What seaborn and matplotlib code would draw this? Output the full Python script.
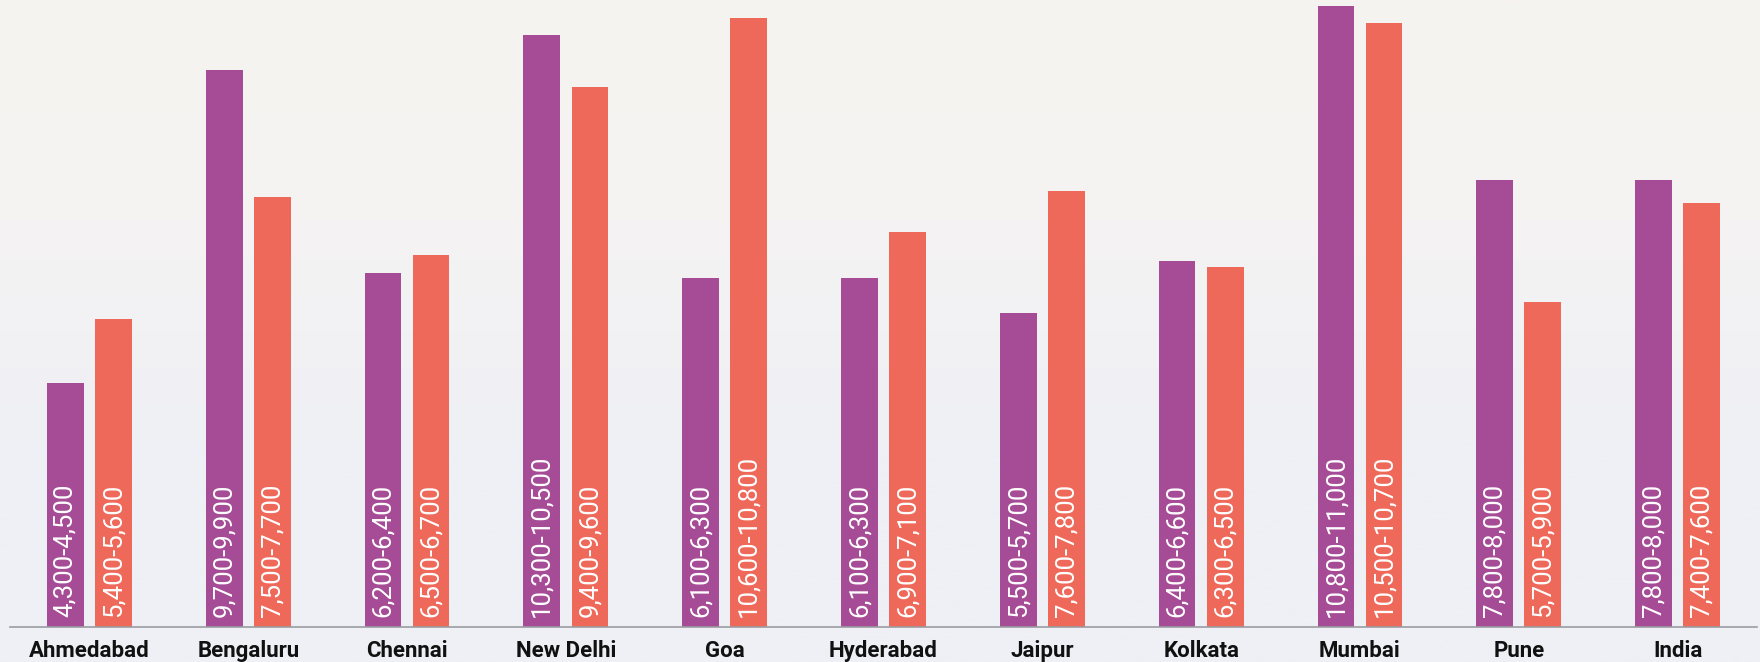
import numpy as np
import pandas as pd
import matplotlib
matplotlib.use("Agg")
import matplotlib.pyplot as plt
import seaborn as sns
from matplotlib.colors import LinearSegmentedColormap

cities = ["Ahmedabad", "Bengaluru", "Chennai", "New Delhi", "Goa", "Hyderabad",
          "Jaipur", "Kolkata", "Mumbai", "Pune", "India"]
s1_low = [4300, 9700, 6200, 10300, 6100, 6100, 5500, 6400, 10800, 7800, 7800]
s1_high = [4500, 9900, 6400, 10500, 6300, 6300, 5700, 6600, 11000, 8000, 8000]
s2_low = [5400, 7500, 6500, 9400, 10600, 6900, 7600, 6300, 10500, 5700, 7400]
s2_high = [5600, 7700, 6700, 9600, 10800, 7100, 7800, 6500, 10700, 5900, 7600]
series_names = ["Series 1", "Series 2"]
colors = ["#A64C96", "#EE6959"]

rows = []
for i, c in enumerate(cities):
    rows.append({"city": c, "series": series_names[0], "high": s1_high[i],
                 "label": f"{s1_low[i]:,}-{s1_high[i]:,}"})
    rows.append({"city": c, "series": series_names[1], "high": s2_high[i],
                 "label": f"{s2_low[i]:,}-{s2_high[i]:,}"})
df = pd.DataFrame(rows)

sns.set_theme(style="white")
plt.rcParams["font.family"] = ["Roboto", "DejaVu Sans"]

fig = plt.figure(figsize=(17.6, 6.62), dpi=100)

# soft background resembling the faded photo
bg = fig.add_axes([0, 0, 1, 1], zorder=-10)
grad = np.linspace(0, 1, 256).reshape(-1, 1)
cmap = LinearSegmentedColormap.from_list("bg", ["#F6F3F0", "#F5F3F2", "#EFF0F5", "#EEF0F5"])
bg.imshow(grad, aspect="auto", cmap=cmap, extent=[0, 1, 0, 1], origin="upper")
bg.axis("off")

ax = fig.add_axes([10 / 1760, 1 - 626.7 / 662, 1747 / 1760, 626.7 / 662])
ax.patch.set_alpha(0)

sns.barplot(data=df, x="city", y="high", hue="series", order=cities,
            hue_order=series_names, palette=colors, width=0.606, gap=0.238,
            dodge=True, saturation=1, legend=False, ax=ax, linewidth=0)

ax.set_xlim(-0.5, 10.5)
ax.set_ylim(290, 11103)
ax.set_xlabel("")
ax.set_ylabel("")
ax.set_yticks([])
for sp in ["top", "right", "left"]:
    ax.spines[sp].set_visible(False)
ax.spines["bottom"].set_color("#9C9CA2")
ax.spines["bottom"].set_linewidth(1.2)
ax.tick_params(axis="x", length=0, pad=9.5)
for t in ax.get_xticklabels():
    t.set_fontweight("bold")
    t.set_fontsize(16)
    t.set_color("#111111")

# value range labels inside bars
for container, sname in zip(ax.containers, series_names):
    sub = df[df["series"] == sname].set_index("city").loc[cities]
    for bar, lab in zip(container, sub["label"]):
        xc = bar.get_x() + bar.get_width() / 2
        ax.annotate(lab, xy=(xc, 290), xytext=(0, 7), textcoords="offset points",
                    rotation=90, ha="center", va="bottom", color="white",
                    fontsize=18.5)

fig.savefig("out.png", dpi=100)
